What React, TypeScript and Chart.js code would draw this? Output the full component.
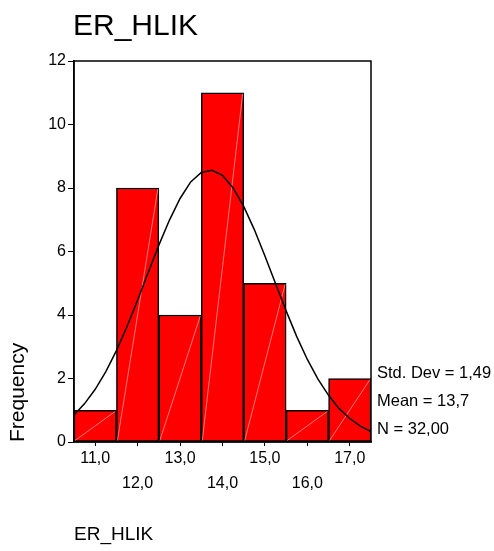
import React, { useEffect, useRef } from "react";
import { Chart, registerables } from "chart.js";

Chart.register(...registerables);

const CHART_TITLE = "ER_HLIK";
const X_AXIS_TITLE = "ER_HLIK";
const Y_AXIS_TITLE = "Frequency";

const BIN_CENTERS = [11, 12, 13, 14, 15, 16, 17];
const FREQUENCIES = [1, 8, 4, 11, 5, 1, 2];

const X_TICKS = [11, 12, 13, 14, 15, 16, 17];
const X_TICK_LABELS = ["11,0", "12,0", "13,0", "14,0", "15,0", "16,0", "17,0"];
const Y_TICKS = [0, 2, 4, 6, 8, 10, 12];

// fitted normal curve
const CURVE_X = [
  10.5, 10.75, 11, 11.25, 11.5, 11.75, 12, 12.25, 12.5, 12.75, 13, 13.25, 13.5, 13.75,
  14, 14.25, 14.5, 14.75, 15, 15.25, 15.5, 15.75, 16, 16.25, 16.5, 16.75, 17, 17.25, 17.5,
];
const CURVE_Y = [
  0.85, 1.21, 1.66, 2.22, 2.88, 3.64, 4.47, 5.34, 6.2, 6.99, 7.67, 8.19, 8.49, 8.56,
  8.4, 8.0, 7.42, 6.69, 5.86, 4.99, 4.13, 3.32, 2.6, 1.98, 1.47, 1.05, 0.74, 0.5, 0.33,
];

const STATS_LINES = ["Std. Dev = 1,49", "Mean = 13,7", "N = 32,00"];

const FONT = "Arial, 'Liberation Sans', sans-serif";

export default function App() {
  const canvasRef = useRef<HTMLCanvasElement | null>(null);

  useEffect(() => {
    const canvas = canvasRef.current;
    if (!canvas) return;

    const decorPlugin = {
      id: "decor",
      afterDatasetDraw(chart: any, args: any) {
        if (args.index !== 1) return;
        const ctx = chart.ctx;
        ctx.save();
        ctx.strokeStyle = "rgba(255,200,200,0.75)";
        ctx.lineWidth = 0.8;
        args.meta.data.forEach((bar: any) => {
          const l = bar.x - bar.width / 2;
          const r = bar.x + bar.width / 2;
          ctx.beginPath();
          ctx.moveTo(l + 1, bar.base - 1);
          ctx.lineTo(r - 1, bar.y + 1);
          ctx.stroke();
        });
        ctx.restore();
      },
      afterDraw(chart: any) {
        const ctx = chart.ctx;
        const a = chart.chartArea;
        ctx.save();
        ctx.strokeStyle = "#000";
        ctx.lineWidth = 1.5;
        ctx.strokeRect(a.left, a.top, a.right - a.left, a.bottom - a.top);
        ctx.fillStyle = "#000";
        ctx.textBaseline = "alphabetic";
        ctx.textAlign = "left";
        ctx.font = `30px ${FONT}`;
        ctx.fillText(CHART_TITLE, 73, 35);
        ctx.font = `16.5px ${FONT}`;
        STATS_LINES.forEach((s, i) => {
          ctx.fillText(s, a.right + 6, 378 + i * 28);
        });
        ctx.restore();
      },
    };

    const chart = new Chart(canvas, {
      type: "bar",
      data: {
        datasets: [
          {
            type: "line",
            data: CURVE_X.map((x, i) => ({ x, y: CURVE_Y[i] })),
            borderColor: "#000",
            borderWidth: 1.5,
            pointRadius: 0,
            tension: 0,
            fill: false,
            order: 0,
          } as any,
          {
            type: "bar",
            data: BIN_CENTERS.map((x, i) => ({ x, y: FREQUENCIES[i] })),
            backgroundColor: "#FF0000",
            borderColor: "#000",
            borderWidth: 1.5,
            borderSkipped: false,
            barPercentage: 1,
            categoryPercentage: 1,
            order: 1,
          } as any,
        ],
      },
      options: {
        responsive: false,
        animation: false,
        devicePixelRatio: 1,
        layout: { padding: { left: 0, top: 61, right: 123, bottom: 0 } },
        plugins: {
          legend: { display: false },
          tooltip: { enabled: false },
          title: { display: false },
        },
        scales: {
          x: {
            type: "linear",
            min: 10.5,
            max: 17.5,
            offset: false,
            afterBuildTicks: (s: any) => {
              s.ticks = X_TICKS.map((v) => ({ value: v }));
            },
            afterFit: (s: any) => {
              s.height = 109;
            },
            ticks: {
              autoSkip: false,
              maxRotation: 0,
              minRotation: 0,
              padding: 0,
              color: "#000",
              font: { family: FONT, size: 16, lineHeight: 25 / 16 },
              callback: (v: any) => {
                const i = X_TICKS.indexOf(Number(v));
                if (i < 0) return "";
                return i % 2 === 0 ? X_TICK_LABELS[i] : ["", X_TICK_LABELS[i]];
              },
            },
            grid: {
              display: true,
              offset: false,
              drawOnChartArea: false,
              drawTicks: true,
              tickLength: 4,
              color: "#000",
              lineWidth: 1,
            },
            border: { display: true, color: "#000", width: 1.5 },
            title: {
              display: true,
              text: X_AXIS_TITLE,
              align: "start",
              color: "#000",
              font: { family: FONT, size: 19 },
              padding: { top: 0, bottom: 5 },
            },
          },
          y: {
            type: "linear",
            min: 0,
            max: 12,
            afterBuildTicks: (s: any) => {
              s.ticks = Y_TICKS.map((v) => ({ value: v }));
            },
            afterFit: (s: any) => {
              s.width = 74;
            },
            ticks: {
              padding: 2,
              color: "#000",
              font: { family: FONT, size: 16 },
              callback: (v: any) => String(v),
            },
            grid: {
              display: true,
              drawOnChartArea: false,
              drawTicks: true,
              tickLength: 6,
              color: "#000",
              lineWidth: 1,
            },
            border: { display: true, color: "#000", width: 1.5 },
            title: {
              display: true,
              text: Y_AXIS_TITLE,
              align: "start",
              color: "#000",
              font: { family: FONT, size: 21 },
              padding: { top: 6, bottom: 0 },
            },
          },
        },
      },
      plugins: [decorPlugin],
    } as any);

    return () => {
      chart.destroy();
    };
  }, []);

  return (
    <div style={{ position: "absolute", left: 0, top: 0, width: 494, height: 551, background: "#fff" }}>
      <canvas ref={canvasRef} width={494} height={551} style={{ display: "block" }} />
    </div>
  );
}
